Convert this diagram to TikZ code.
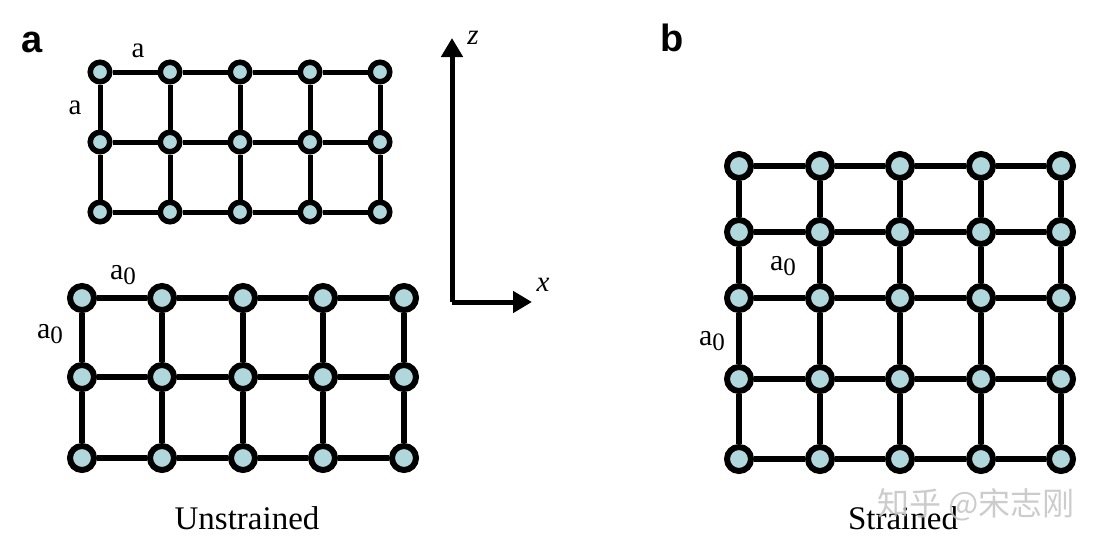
\documentclass[tikz,border=0pt]{standalone}
\usepackage{fontspec}
\setmainfont{Liberation Serif}
\newfontfamily\panelsans{Liberation Sans}
\newfontfamily\cjkwm{Noto Sans CJK SC}
\usetikzlibrary{arrows.meta,backgrounds}
\definecolor{atomfill}{RGB}{176,216,220}
\definecolor{wmgray}{RGB}{195,195,195}
\newcommand\azero{{\fontsize{30pt}{30pt}\selectfont a}\raisebox{-5pt}{\fontsize{25pt}{25pt}\selectfont 0}}
\tikzset{
  atomA/.style={circle, draw=black, line width=5.5pt, fill=atomfill, minimum size=19.5pt, inner sep=0pt},
  atomB/.style={circle, draw=black, line width=6pt, fill=atomfill, minimum size=24pt, inner sep=0pt},
  bondA/.style={draw=black, line width=5pt},
  bondB/.style={draw=black, line width=5.3pt},
  lbl/.style={inner sep=0pt, font=\fontsize{29pt}{30pt}\selectfont},
  caption/.style={inner sep=0pt, font=\fontsize{33pt}{36pt}\selectfont},
  panel/.style={inner sep=0pt, font=\panelsans\bfseries\fontsize{38pt}{40pt}\selectfont},
  axis/.style={line width=5pt, -{Triangle[length=19pt,width=21pt]}}
}
\begin{document}
\begin{tikzpicture}[x=1pt,y=-1pt]
\useasboundingbox (0,0) rectangle (1107,552);
% panel labels
\node[panel] (pa) at (32,42) {a};
\node[panel] (pb) at (672,38) {b};
% upper lattice
\foreach \i/\x in {1/100,2/170,3/240,4/310,5/380}
  \foreach \j/\y in {1/72,2/142,3/212}
    \node[atomA] (A\i\j) at (\x,\y) {};
\begin{scope}[on background layer]
\foreach \i in {1,...,5} \draw[bondA] (A\i1) -- (A\i2) -- (A\i3);
\foreach \j in {1,2,3} \draw[bondA] (A1\j) -- (A2\j) -- (A3\j) -- (A4\j) -- (A5\j);
\end{scope}
\node[lbl] (la1) at (138,51) {a};
\node[lbl] (la2) at (75,108) {a};
% lower lattice
\foreach \i/\x in {1/82,2/162,3/243,4/323,5/404}
  \foreach \j/\y in {1/298,2/377,3/458}
    \node[atomB] (B\i\j) at (\x,\y) {};
\begin{scope}[on background layer]
\foreach \i in {1,...,5} \draw[bondB] (B\i1) -- (B\i2) -- (B\i3);
\foreach \j in {1,2,3} \draw[bondB] (B1\j) -- (B2\j) -- (B3\j) -- (B4\j) -- (B5\j);
\end{scope}
\node[lbl] (lb1) at (123,275) {\azero};
\node[lbl] (lb2) at (50,334) {\azero};
\node[caption] (cap1) at (247,518) {Unstrained};
% axes
\coordinate (o) at (452,302);
\coordinate (zt) at (452,38);
\coordinate (xt) at (532,302);
\draw[axis] (o) -- (zt);
\draw[axis] (o) -- (xt);
\node[lbl, font=\itshape\fontsize{29pt}{30pt}\selectfont] (zl) at (473,38) {z};
\node[lbl, font=\itshape\fontsize{29pt}{30pt}\selectfont] (xl) at (543,285) {x};
% strained lattice
\foreach \i/\x in {1/739,2/820,3/900,4/981,5/1061}
  \foreach \j/\y in {1/166,2/232,3/298,4/379,5/459}
    \node[atomB] (C\i\j) at (\x,\y) {};
\begin{scope}[on background layer]
\foreach \i in {1,...,5} \draw[bondB] (C\i1) -- (C\i2) -- (C\i3) -- (C\i4) -- (C\i5);
\foreach \j in {1,...,5} \draw[bondB] (C1\j) -- (C2\j) -- (C3\j) -- (C4\j) -- (C5\j);
\end{scope}
\node[lbl] (lc1) at (783,266) {\azero};
\node[lbl] (lc2) at (712,341) {\azero};
\node[caption] (cap2) at (903,518) {Strained};
% watermark
\node[inner sep=0pt, text=wmgray, opacity=0.85, font=\cjkwm\fontsize{32pt}{33pt}\selectfont] (wm) at (976,505) {知乎 @宋志刚};
\end{tikzpicture}
\end{document}
